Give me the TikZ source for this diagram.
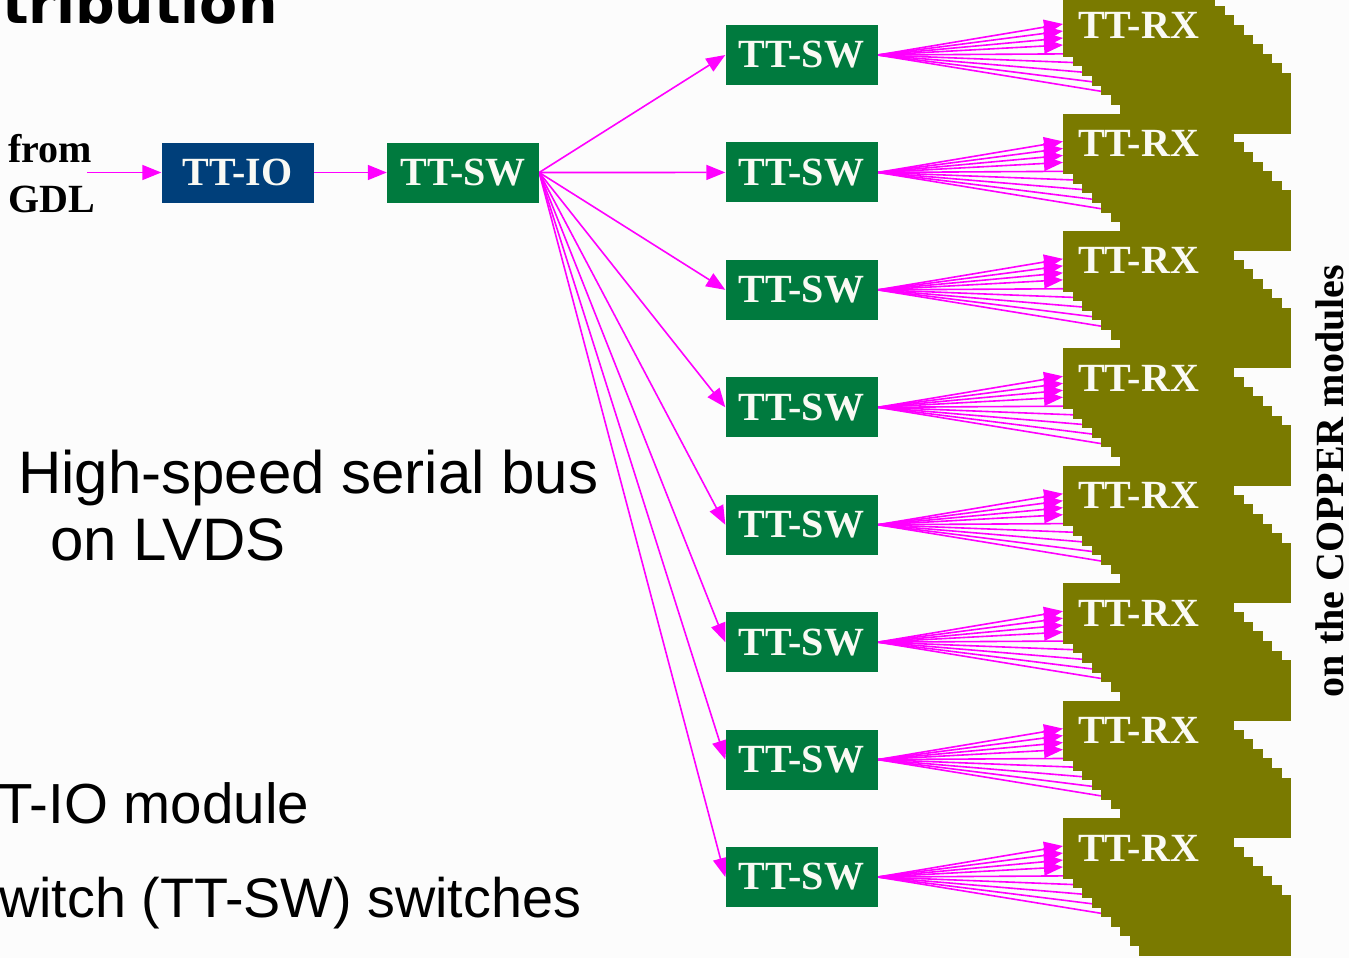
\documentclass[tikz,border=0pt]{standalone}
\usepackage{fontspec}
\setmainfont{Liberation Serif}
\newfontfamily\sansfont{Liberation Sans}
\newfontfamily\headfont{DejaVu Sans}
\usetikzlibrary{arrows.meta,calc}

\definecolor{bgcol}{RGB}{252,252,252}
\definecolor{iocol}{RGB}{0,63,122}
\definecolor{swcol}{RGB}{0,122,62}
\definecolor{rxcol}{RGB}{122,122,0}
\definecolor{wirecol}{RGB}{255,0,255}
\definecolor{labelcol}{RGB}{250,250,244}

\pgfdeclarelayer{bg}
\pgfdeclarelayer{wires}
\pgfsetlayers{bg,wires,main}

\tikzset{
  serif/.style={font=\bfseries\fontsize{40}{40}\selectfont, inner sep=0pt},
  module/.style={serif, minimum width=152pt, minimum height=60pt, text=labelcol},
  iobox/.style={module, fill=iocol},
  swbox/.style={module, fill=swcol},
  rxbox/.style={fill=rxcol, minimum width=152pt, minimum height=60.5pt, inner sep=0pt, anchor=north west},
  rxlabel/.style={serif, text=labelcol, anchor=base west},
  wire/.style={draw=wirecol, line width=1.6pt, -{Triangle[length=19pt,width=15pt]}},
  hidwire/.style={wire, shorten >=-40pt},
  body/.style={font=\sansfont\fontsize{60}{60}\selectfont, inner sep=0pt, anchor=base west},
  notes/.style={body, font=\sansfont\fontsize{56.5}{56.5}\selectfont},
}

\begin{document}
\begin{tikzpicture}[x=1pt,y=-1pt]
\begin{pgfonlayer}{bg}
  \fill[bgcol] (0,0) rectangle (1349,958);
\end{pgfonlayer}
\useasboundingbox (0,0) rectangle (1349,958);
\clip (0,0) rectangle (1349,958);

% heading, cut by the page edge
\node[anchor=base west, inner sep=0pt, font=\headfont\bfseries\fontsize{55.5}{55.5}\selectfont] (title) at (2,24) {tribution};

% input side
\node[serif, anchor=base west] (fromtxt) at (8,162) {from};
\node[serif, anchor=base west] (gdltxt) at (8,212) {GDL};
\coordinate (gdlin) at (87,172.5);
\node[iobox] (io) at (237.5,172.5) {TT-IO};
\node[swbox] (sw) at (463,172.5) {TT-SW};

% second level switches
\foreach \i in {0,...,7}{
  \pgfmathsetmacro{\cy}{55+117.43*\i}
  \node[swbox] (sw\i) at (801.5,\cy) {TT-SW};
}

% stacks of receiver boards
\foreach \i in {0,...,7}{
  \foreach \k in {8,7,...,0}{
    \pgfmathsetmacro{\bx}{1063+9.5*\k}
    \pgfmathsetmacro{\by}{-4+117.43*\i+9.6*\k}
    \node[rxbox] (rx-\i-\k) at (\bx,\by) {};
  }
}
\foreach \i in {0,...,7}{
  \node[rxlabel] (rxl\i) at ($(rx-\i-0.north west)+(15,43)$) {TT-RX};
}

% side caption
\node[serif, rotate=90] (copper) at (1330,481) {on the COPPER modules};

% explanatory text
\node[body] (bus1) at (18,493) {High-speed serial bus};
\node[body] (bus2) at (50,560) {on LVDS};
\node[notes] (iomod) at (-2,823) {T-IO module};
\node[notes, font=\sansfont\fontsize{55.7}{55.7}\selectfont] (swmod) at (-1,917) {witch (TT-SW) switches};

% links
\begin{pgfonlayer}{wires}
  \draw[wire] (gdlin) -- (io.west);
  \draw[wire] (io.east) -- (sw.west);
  \foreach \i in {0,...,7}{
    \draw[wire] (sw.east) -- (sw\i.west);
  }
  \foreach \i in {0,...,7}{
    \foreach \d in {28,35,42,49}{
      \draw[wire] (sw\i.east) -- ($(rx-\i-0.north west)+(0,\d)$);
    }
    \draw[hidwire] (sw\i.east) -- ($(rx-\i-0.south west)+(0,-3)$);
    \foreach \k in {1,...,4}{
      \draw[hidwire] (sw\i.east) -- ($(rx-\i-\k.south west)+(0,-4)$);
    }
  }
\end{pgfonlayer}
\end{tikzpicture}
\end{document}
